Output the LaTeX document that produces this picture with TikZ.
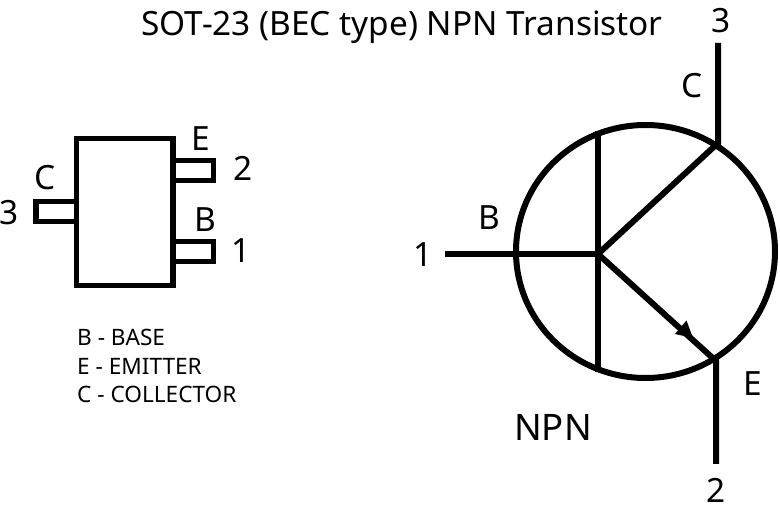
\documentclass[tikz,border=0pt]{standalone}
\usepackage{fontspec}
\setmainfont{Noto Sans}

\begin{document}
\begin{tikzpicture}[
  x=1pt, y=-1pt,
  wire/.style={line width=6pt, line join=miter},
  lbl/.style={inner sep=0pt, font=\fontsize{33.4}{33.4}\selectfont},
  legend/.style={inner sep=0pt, anchor=west, font=\fontsize{22.6}{22.6}\selectfont}
  ]
  \useasboundingbox (0,0) rectangle (780,510);
  \node[lbl] (title) at (402,27) {SOT-23 (BEC type) NPN Transistor};

  % package
  \draw[wire,line width=5.5pt] (76.5,138.5) rectangle (173,285.5);
  \draw[wire,line width=5.5pt] (173,160.5) rectangle (213.5,180.5);
  \draw[wire,line width=5.5pt] (173,241.5) rectangle (213.5,261.5);
  \draw[wire,line width=5.5pt] (76.5,201.5) rectangle (36,221.5);
  \node[lbl] (pe) at (200.5,139) {E};
  \node[lbl] (pb) at (205,220) {B};
  \node[lbl] (pc) at (45,178) {C};
  \node[lbl] (p2) at (243.5,168) {2};
  \node[lbl] (p1) at (241,251) {1};
  \node[lbl] (p3) at (9,212.5) {3};
  \node[legend] (lb) at (77,337) {B - BASE};
  \node[legend] (le) at (77,366) {E - EMITTER};
  \node[legend] (lc) at (77,394) {C - COLLECTOR};

  % symbol
  \coordinate (top) at (598,131);
  \coordinate (bot) at (598,372);
  \coordinate (mid) at (598,254);
  \coordinate (lead) at (445,254);
  \coordinate (col) at (718,143);
  \coordinate (colend) at (718,43);
  \coordinate (emi) at (716,361);
  \coordinate (emiend) at (716,464);
  \draw[wire] (645.5,251.5) ellipse (129.5 and 126.5);
  \draw[wire] (top) -- (bot);
  \draw[wire] (lead) -- (mid);
  \draw[wire] (mid) -- (col) -- (colend);
  \draw[wire] (mid) -- (emi) -- (emiend);
  \fill (693,338) -- (675,334) -- (686.5,320.5) -- cycle;
  \node[lbl] (sc) at (692,86) {C};
  \node[lbl] (s3) at (721.5,21) {3};
  \node[lbl] (sb) at (489,218) {B};
  \node[lbl] (s1) at (423,255) {1};
  \node[lbl] (se) at (753,384) {E};
  \node[lbl] (s2) at (716,490) {2};
  \node[lbl, font=\fontsize{36.5}{36.5}\selectfont] (npn) at (553,427) {NPN};
\end{tikzpicture}
\end{document}
